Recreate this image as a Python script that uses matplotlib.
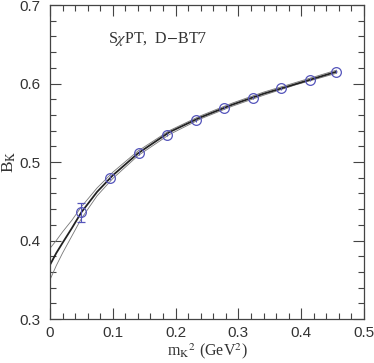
import matplotlib
matplotlib.use("Agg")
import matplotlib.pyplot as plt
from matplotlib.ticker import MultipleLocator

# lattice points
mk2 = [0.049, 0.0955, 0.1417, 0.186, 0.232, 0.277, 0.323, 0.368, 0.414, 0.456]
bk = [0.436, 0.480, 0.512, 0.535, 0.553, 0.569, 0.582, 0.594, 0.605, 0.615]
bk_err = [0.012, 0.003, 0.003, 0.002, 0.002, 0.002, 0.002, 0.002, 0.002, 0.002]

# fit curve and error band
fit_x = [0, 0.01, 0.02, 0.035, 0.05, 0.075, 0.1, 0.14, 0.19, 0.24, 0.29, 0.34, 0.39, 0.456]
fit_c = [0.369, 0.384, 0.397, 0.416, 0.436, 0.462, 0.483, 0.511, 0.538, 0.557, 0.573, 0.587, 0.599, 0.615]
fit_hi = [0.390, 0.400, 0.411, 0.426, 0.443, 0.467, 0.487, 0.514, 0.540, 0.559, 0.575, 0.589, 0.601, 0.617]
fit_lo = [0.350, 0.368, 0.384, 0.406, 0.428, 0.457, 0.479, 0.508, 0.535, 0.555, 0.571, 0.585, 0.598, 0.613]

xticks = [0, 0.1, 0.2, 0.3, 0.4, 0.5]
yticks = [0.3, 0.4, 0.5, 0.6, 0.7]

plt.rcParams['mathtext.fontset'] = 'stix'
fig = plt.figure(figsize=(3.74, 3.63), dpi=100)
ax = fig.add_axes([0.1337, 0.1212, 0.8396, 0.8650])

ax.plot(fit_x, fit_hi, color='#777777', lw=0.6)
ax.plot(fit_x, fit_lo, color='#777777', lw=0.6)
ax.plot(fit_x, fit_c, color='#222222', lw=1.3)
blue = '#5555bb'
ax.errorbar(mk2[:1], bk[:1], yerr=bk_err[:1], fmt='o', ms=7, mfc='none', mec=blue,
            ecolor=blue, elinewidth=0.8, capsize=3, mew=0.9)
ax.errorbar(mk2[1:], bk[1:], yerr=bk_err[1:], fmt='o', ms=7, mfc='none', mec=blue,
            ecolor=blue, elinewidth=0.8, capsize=0, mew=0.9)

ax.set_xlim(0, 0.5)
ax.set_ylim(0.3, 0.7)
ax.set_xticks(xticks)
ax.set_xticklabels(['0', '0.1', '0.2', '0.3', '0.4', '0.5'])
ax.set_yticks(yticks)
ax.set_yticklabels(['0.3', '0.4', '0.5', '0.6', '0.7'])
ax.xaxis.set_minor_locator(MultipleLocator(0.02))
ax.yaxis.set_minor_locator(MultipleLocator(0.02))
ax.tick_params(which='both', direction='in', top=True, right=True, color='#444444', width=0.8)
ax.tick_params(which='major', length=8, labelsize=11, labelcolor='#333333', pad=7)
ax.tick_params(axis='x', which='major', pad=5)
ax.tick_params(which='minor', length=4)
for lab in ax.get_xticklabels() + ax.get_yticklabels():
    lab.set_family('Liberation Sans')
for s in ax.spines.values():
    s.set_color('#444444')
    s.set_linewidth(0.9)

ax.set_xlabel(r'm$_{\mathrm{K}}$$^2$ (GeV$^2$)', family='Liberation Serif', fontsize=11.5,
              color='#333333', labelpad=0)
ax.xaxis.set_label_coords(0.5, -0.072)
ax.set_ylabel(r'B$_{\mathrm{K}}$', family='Liberation Serif', fontsize=12.5, color='#333333', labelpad=1)
ax.text(0.092, 0.652, r'S$\chi$PT,  D$-$BT7', family='Liberation Serif', fontsize=11.5, color='#333333')

fig.savefig('out.png', dpi=100)
